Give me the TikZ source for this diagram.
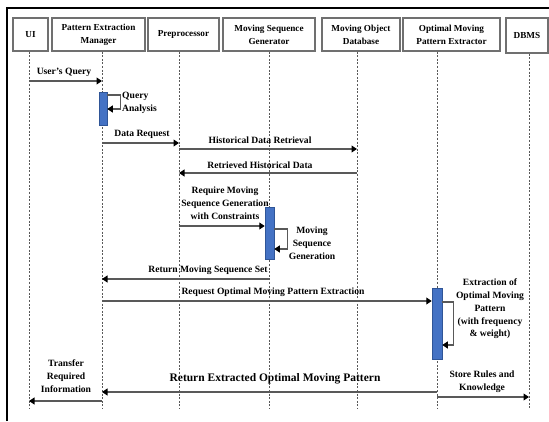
\documentclass[tikz,border=0pt]{standalone}
\usepackage{fontspec}
\setmainfont{Liberation Serif}
\usetikzlibrary{arrows.meta}
\definecolor{actblue}{HTML}{4472C4}
\definecolor{actedge}{HTML}{2F5597}
\definecolor{lineg}{HTML}{595959}
\definecolor{boxg}{HTML}{707070}
\begin{document}
\begin{tikzpicture}[x=1pt,y=-1pt,
  hdr/.style={draw=boxg, line width=1.1pt, fill=white, align=center, inner sep=0pt,
    font=\fontsize{9.2}{13}\selectfont\bfseries, minimum height=33pt},
  lbl/.style={inner sep=0pt, align=center, font=\fontsize{9.6}{12.8}\selectfont\bfseries},
  biglbl/.style={inner sep=0pt, align=center, font=\fontsize{11.5}{14}\selectfont\bfseries},
  life/.style={draw=lineg, line width=0.6pt, dash pattern=on 2pt off 1.6pt},
  msg/.style={draw=lineg, line width=1.1pt, -{Triangle[length=5.5pt,width=7pt,color=black]}},
  actbar/.style={draw=actedge, line width=0.5pt, fill=actblue, inner sep=0pt}
]
\useasboundingbox (0,0) rectangle (549,421);
% frame
\draw[line width=1.5pt] (7,421) -- (7,8) -- (549,8);
% header boxes
\node[hdr, minimum width=35pt] (ui) at (30.5,34.5) {UI};
\node[hdr, minimum width=93pt] (pem) at (98.5,34.5) {Pattern Extraction\\Manager};
\node[hdr, minimum width=71pt] (pre) at (183.5,34.5) {Preprocessor};
\node[hdr, minimum width=92pt] (msg) at (269,34.5) {Moving Sequence\\Generator};
\node[hdr, minimum width=78pt] (mod) at (361,34.5) {Moving Object\\Database};
\node[hdr, minimum width=97pt] (ompe) at (451.5,34.5) {Optimal Moving\\Pattern Extractor};
\node[hdr, minimum width=42pt, minimum height=35pt] (dbms) at (527,35.5) {DBMS};
% lifeline x positions
\coordinate (Lui) at (29,0);
\coordinate (Lpem) at (102,0);
\coordinate (Lpre) at (179,0);
\coordinate (Lmsg) at (269,0);
\coordinate (Lmod) at (357,0);
\coordinate (Lompe) at (437,0);
\coordinate (Ldb) at (529,0);
% lifelines
\draw[life] (Lui |- ui.south) -- (Lui |- 0,408);
\draw[life] (Lpem |- pem.south) -- (Lpem |- 0,408);
\draw[life] (Lpre |- pre.south) -- (Lpre |- 0,408);
\draw[life] (Lmsg |- msg.south) -- (Lmsg |- 0,408);
\draw[life] (Lmod |- mod.south) -- (Lmod |- 0,408);
\draw[life] (Lompe |- ompe.south) -- (Lompe |- 0,408);
\draw[life] (Ldb |- dbms.south) -- (Ldb |- 0,408);
% activation bars
\node[actbar, minimum width=8pt, minimum height=33pt] (a1) at (103,108.5) {};
\node[actbar, minimum width=9pt, minimum height=52pt] (a2) at (269.5,233) {};
\node[actbar, minimum width=10pt, minimum height=71pt] (a3) at (437,323.5) {};
% messages
\draw[msg] (Lui |- 0,81) -- (Lpem |- 0,81);
\node[lbl] (t1) at (64,72) {User's Query};
\draw[msg] (a1.east |- 0,95) -- ++(13,0) -- ++(0,14) -- (a1.east |- 0,109);
\node[lbl, align=left, anchor=west] (t2) at (122,103) {Query\\Analysis};
\draw[msg] (Lpem |- 0,143) -- (Lpre |- 0,143);
\node[lbl] (t3) at (142,134) {Data Request};
\draw[msg] (Lpre |- 0,149) -- (Lmod |- 0,149);
\node[lbl] (t4) at (260,140) {Historical Data Retrieval};
\draw[msg] (Lmod |- 0,173) -- (Lpre |- 0,173);
\node[lbl] (t5) at (260,165) {Retrieved Historical Data};
\draw[msg] (Lpre |- 0,226) -- (a2.west |- 0,226);
\node[lbl] (t6) at (225,203.5) {Require Moving\\Sequence Generation\\with Constraints};
\draw[msg] (a2.east |- 0,229) -- ++(13,0) -- ++(0,20) -- (a2.east |- 0,249);
\node[lbl] (t7) at (312,243) {Moving\\Sequence\\Generation};
\draw[msg] (Lmsg |- 0,279) -- (Lpem |- 0,279);
\node[lbl] (t8) at (208,270) {Return Moving Sequence Set};
\draw[msg] (Lpem |- 0,301) -- (a3.west |- 0,301);
\node[lbl] (t9) at (273,292) {Request Optimal Moving Pattern Extraction};
\draw[msg] (a3.east |- 0,302) -- ++(11,0) -- ++(0,43) -- (a3.east |- 0,345);
\node[lbl] (t10) at (490,309) {Extraction of\\Optimal Moving\\Pattern\\(with frequency\\\& weight)};
\draw[msg] (Lompe |- 0,392) -- (Lpem |- 0,392);
\node[biglbl] (t11) at (275,379) {Return Extracted Optimal Moving Pattern};
\draw[msg] (Lompe |- 0,397) -- (Ldb |- 0,397);
\node[lbl] (t12) at (482,382) {Store Rules and\\Knowledge};
\draw[msg] (Lpem |- 0,401) -- (Lui |- 0,401);
\node[lbl] (t13) at (66,376) {Transfer\\Required\\Information};
\end{tikzpicture}
\end{document}
